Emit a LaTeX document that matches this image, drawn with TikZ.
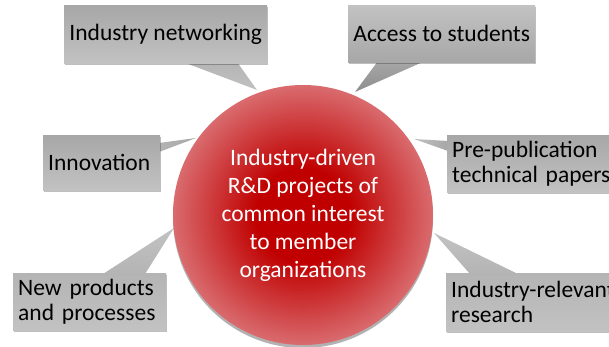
\documentclass[tikz,border=0pt]{standalone}
\usepackage{fontspec}
\setmainfont{Carlito}
\usetikzlibrary{shadows}
\definecolor{rc}{HTML}{C00000}
\definecolor{re}{HTML}{D96B6E}
\definecolor{gA}{HTML}{A7A7A7}
\definecolor{gB}{HTML}{C2C2C2}
\definecolor{gM}{HTML}{B4B4B4}
\definecolor{gD}{HTML}{8E8E8E}
\pgfdeclareradialshading{redball}{\pgfpoint{0bp}{0bp}}{color(0bp)=(rc); color(9bp)=(rc); color(25bp)=(re); color(50bp)=(re)}
\begin{document}
\begin{tikzpicture}[x=1pt,y=-1pt,
  box/.style={draw=none, anchor=north west, inner xsep=5pt, inner ysep=0pt,
    font=\fontsize{23.5}{25}\selectfont, text=black,
    drop shadow={shadow xshift=1pt, shadow yshift=-2pt, opacity=0.25, fill=black}},
  ball/.style={circle, draw=none, minimum size=260pt, inner sep=0pt, shading=redball,
    text=white, align=center, font=\fontsize{23.5}{28}\selectfont,
    drop shadow={shadow xshift=0pt, shadow yshift=-3pt, opacity=0.3, fill=black}},
  ptr/.style={draw=none}]
\useasboundingbox (0,0) rectangle (609,347);
\clip (0,0) rectangle (609,347);
% pointer coordinates
\coordinate (a1) at (183,62); \coordinate (b1) at (237,62); \coordinate (t1) at (257,90);
\coordinate (a2) at (378,61); \coordinate (b2) at (425,61); \coordinate (t2) at (355,92);
\coordinate (a3) at (159,143); \coordinate (b3) at (159,152); \coordinate (t3) at (196,138);
\coordinate (a4) at (448,141); \coordinate (b4) at (448,151); \coordinate (t4) at (414,139);
\coordinate (a5) at (103,274); \coordinate (b5) at (145,274); \coordinate (t5) at (174,228);
\coordinate (a6) at (470,274); \coordinate (b6) at (518,274); \coordinate (t6) at (434,233);
% pointers
\path[ptr, top color=gM, bottom color=gB] (a1) -- (b1) -- (t1) -- cycle;
\path[ptr, top color=gA, bottom color=gD] (a2) -- (b2) -- (t2) -- cycle;
\path[ptr, left color=gM, right color=gA] (a3) -- (b3) -- (t3) -- cycle;
\path[ptr, left color=gB, right color=gA] (a4) -- (b4) -- (t4) -- cycle;
\path[ptr, top color=gB, bottom color=gM] (a5) -- (b5) -- (t5) -- cycle;
\path[ptr, top color=gB, bottom color=gM] (a6) -- (b6) -- (t6) -- cycle;
% central circle
\node[ball] (c) at (303,215) {Industry-driven\\R\&D projects of\\common interest\\to member\\organizations};
% boxes
\node[box, top color=gA, bottom color=gB, minimum width=203pt, minimum height=58pt, align=center] (n1) at (64,5) {Industry networking};
\node[box, top color=gB, bottom color=gA, minimum width=187pt, minimum height=57pt, align=center] (n2) at (348,5) {Access to students};
\node[box, top color=gA, bottom color=gB, minimum width=117pt, minimum height=55pt, text width=107pt, align=left] (n3) at (43,135) {Innovation};
\node[box, top color=gA, bottom color=gB, minimum width=190pt, minimum height=57pt, text width=180pt, align=left] (n4) at (447,135) {Pre-publication\\technical papers};
\node[box, top color=gM, bottom color=gB, minimum width=153pt, minimum height=57pt, text width=143pt, align=left] (n5) at (13,273) {New products\\and processes};
\node[box, top color=gM, bottom color=gB, minimum width=200pt, minimum height=58pt, text width=190pt, align=left] (n6) at (446,273) {Industry-relevant\\research};
\end{tikzpicture}
\end{document}
